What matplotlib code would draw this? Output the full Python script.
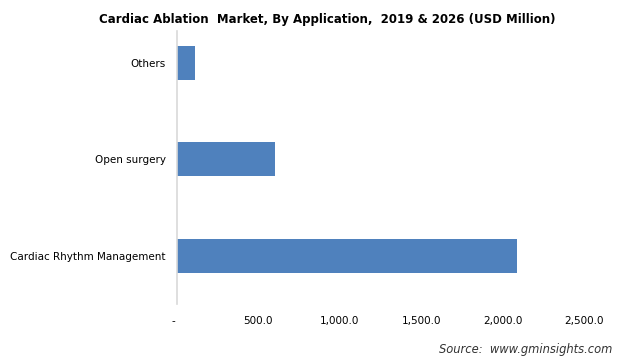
import matplotlib
matplotlib.use("Agg")
import matplotlib.pyplot as plt
from matplotlib.ticker import FuncFormatter

categories = ["Cardiac Rhythm Management", "Open surgery", "Others"]
values = [2090, 600, 113]
xticks = [0, 500, 1000, 1500, 2000, 2500]

title = "Cardiac Ablation  Market, By Application,  2019 & 2026 (USD Million)"
source = "Source:  www.gminsights.com"

fig = plt.figure(figsize=(6.22, 3.61), dpi=100)
ax = fig.add_axes([0.2846, 0.158, 0.9386 - 0.2846, 0.914 - 0.158])

ax.barh(range(len(categories)), values, height=0.35, color="#4F81BD")
ax.set_yticks(range(len(categories)))
ax.set_yticklabels(categories, fontsize=7.5, color="#000000")
ax.set_xlim(0, 2500)
ax.set_ylim(-0.5, 2.33)
ax.set_xticks(xticks)

def fmt(v, pos):
    if v == 0:
        return "-  "
    return f"{v:,.1f}"

ax.xaxis.set_major_formatter(FuncFormatter(fmt))
ax.tick_params(axis="x", labelsize=7.5, length=0, pad=9, colors="#000000")
ax.tick_params(axis="y", length=0, pad=8)

for s in ["top", "right", "bottom"]:
    ax.spines[s].set_visible(False)
ax.spines["left"].set_color("#D9D9D9")
ax.spines["left"].set_linewidth(1.2)

fig.text(0.526, 0.947, title, ha="center", va="center", fontsize=8.5, fontweight="bold")
fig.text(0.984, 0.033, source, ha="right", va="center", fontsize=8.3, style="italic", color="#333333")

fig.savefig("out.png", dpi=100)
